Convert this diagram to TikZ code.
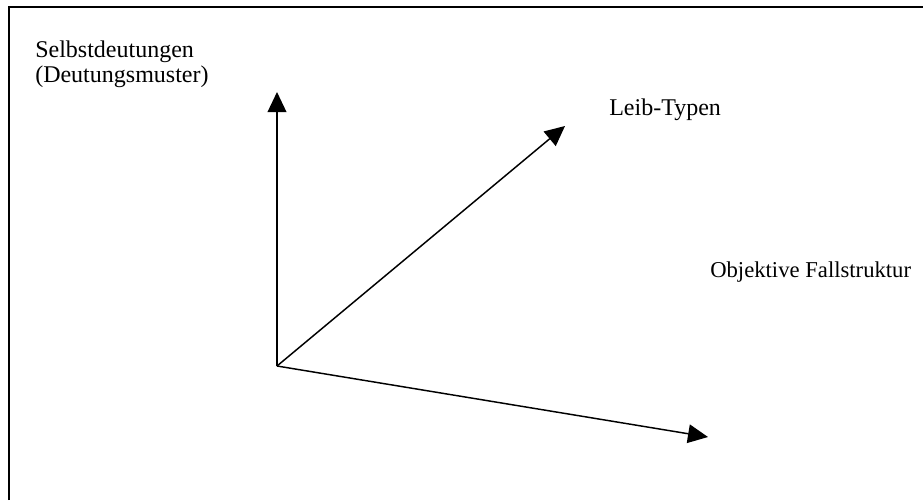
\documentclass[tikz,border=0pt]{standalone}
\usepackage{fontspec}
\setmainfont{Liberation Serif}
\usetikzlibrary{arrows.meta}

\begin{document}
\begin{tikzpicture}[x=0.75pt, y=-0.75pt]
    \useasboundingbox (0, 0) rectangle (923, 500);

    % Frame (runs off the page at right and bottom)
    \draw[line width=1.5pt] (9, 500) -- (9, 7) -- (923, 7);

    % Origin and axis ends
    \coordinate (o) at (277, 366);
    \coordinate (selbst) at (277, 92);
    \coordinate (leib) at (565, 126);
    \coordinate (fall) at (708, 437);

    \draw[-{Triangle[length=15pt, width=14pt]}, line width=1.1pt] (o) -- (selbst);
    \draw[-{Triangle[length=15pt, width=14pt]}, line width=1.1pt] (o) -- (leib);
    \draw[-{Triangle[length=15pt, width=14pt]}, line width=1.1pt] (o) -- (fall);

    % Labels
    \node[anchor=base west, inner sep=0, align=left,
          font=\fontsize{18}{18.75}\selectfont] (selbstlabel) at (35, 82)
        {Selbstdeutungen\\(Deutungsmuster)};
    \node[anchor=base west, inner sep=0, font=\fontsize{18}{18.75}\selectfont]
        (leiblabel) at (609, 115) {Leib-Typen};
    \node[anchor=base west, inner sep=0, font=\fontsize{17}{18}\selectfont]
        (falllabel) at (710, 277) {Objektive Fallstruktur};
\end{tikzpicture}
\end{document}
